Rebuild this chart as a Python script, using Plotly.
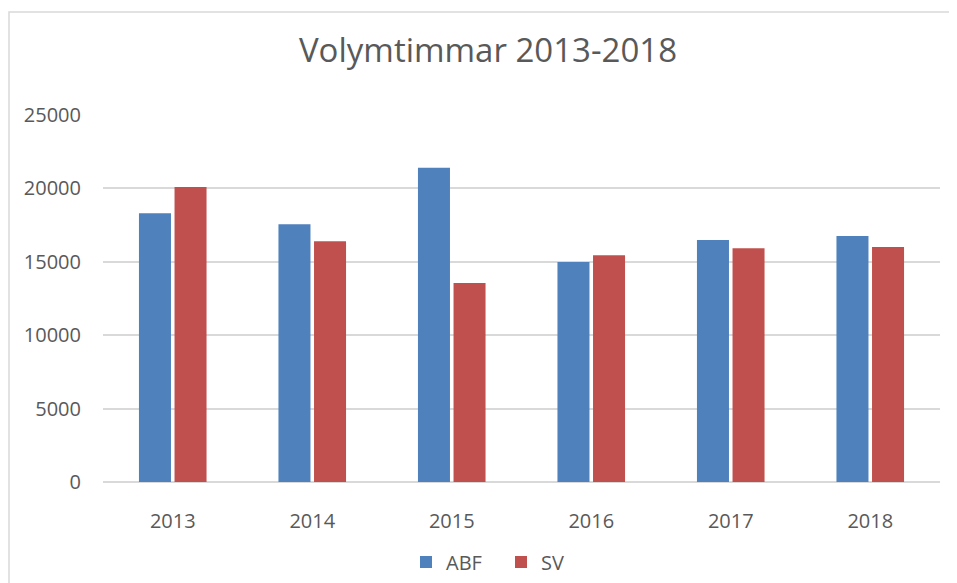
import plotly.graph_objects as go

# data
years = ["2013", "2014", "2015", "2016", "2017", "2018"]
abf = [18300, 17550, 21400, 14980, 16480, 16750]
sv = [20100, 16400, 13550, 15450, 15930, 16000]
y_ticks = [0, 5000, 10000, 15000, 20000, 25000]

W, H = 957, 583
# the page has an 8px body margin, so everything is placed 8px up/left
L, R, T, B = 95, 25, 107, 109
grey_text = "#595959"
grid = "#D9D9D9"
font = "Open Sans"

fig = go.Figure()
fig.add_trace(go.Bar(x=years, y=abf, name="ABF", marker=dict(color="#4F81BD", line=dict(width=0))))
fig.add_trace(go.Bar(x=years, y=sv, name="SV", marker=dict(color="#C0504D", line=dict(width=0))))

plot_w = W - L - R
plot_h = H - T - B
# light frame round the chart (top and left edges are visible in the reference)
fig.add_shape(type="rect", xref="paper", yref="paper",
              x0=(1 - L) / plot_w, x1=1.3,
              y0=-0.6, y1=(H - B - 4) / plot_h,
              line=dict(color=grid, width=1.5), layer="below")

fig.update_layout(
    width=W, height=H,
    margin=dict(l=L, r=R, t=T, b=B, autoexpand=False),
    paper_bgcolor="white", plot_bgcolor="white",
    barmode="group", bargap=0.49, bargroupgap=0.1,
    title=dict(text="Volymtimmar 2013-2018", x=480 / W, xanchor="center",
               y=1 - 42 / H, yanchor="middle", yref="container",
               font=dict(family=font, size=33, color=grey_text)),
    font=dict(family=font, size=20, color=grey_text),
    legend=dict(orientation="h", x=(493 - L) / plot_w, xanchor="center",
                yref="container", y=1 - 554 / H, yanchor="middle",
                font=dict(family=font, size=20, color=grey_text),
                itemwidth=30, entrywidth=50, traceorder="normal"),
    showlegend=True,
)
fig.update_xaxes(showgrid=False, showline=False, ticks="", ticklabelstandoff=25,
                 tickfont=dict(family=font, size=20, color=grey_text))
fig.update_yaxes(range=[0, 25000], tickvals=y_ticks, tickformat="d",
                 showgrid=True, gridcolor=grid, gridwidth=1.5,
                 zeroline=True, zerolinecolor=grid, zerolinewidth=1.5,
                 showline=False, ticks="", ticklabelstandoff=21,
                 tickfont=dict(family=font, size=20, color=grey_text))

fig.write_html("out.html")
